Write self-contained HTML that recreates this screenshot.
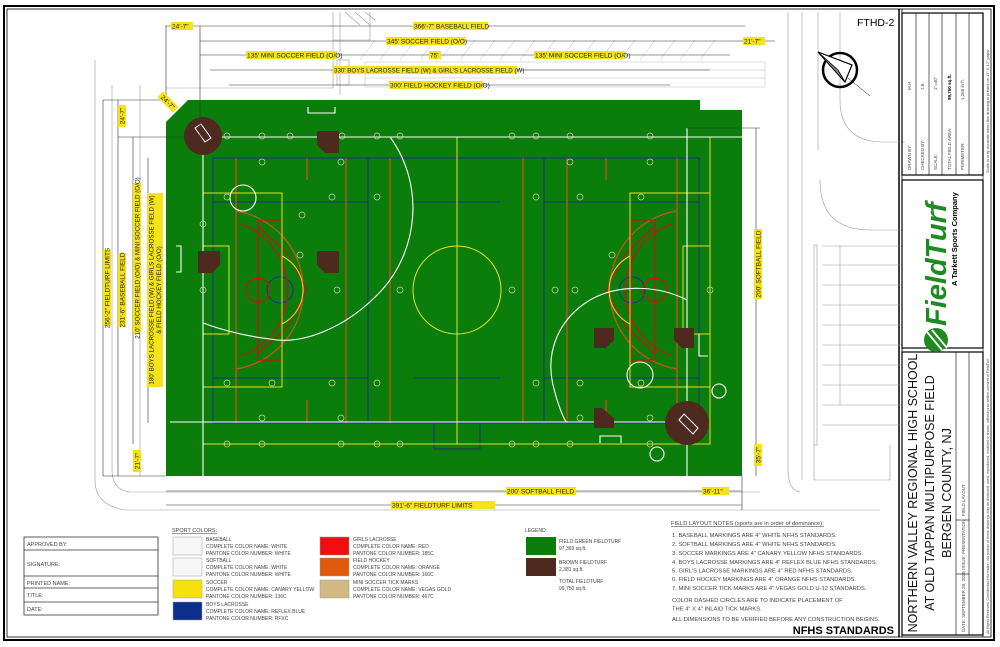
<!DOCTYPE html>
<html><head><meta charset="utf-8"><style>
html,body{margin:0;padding:0;background:#fff;}
svg{display:block;font-family:"Liberation Sans",sans-serif;}
</style></head><body>
<svg width="1000" height="647" viewBox="0 0 1000 647" xmlns="http://www.w3.org/2000/svg">
<!-- outer border -->
<rect x="4" y="6" width="990" height="634" fill="none" stroke="#000" stroke-width="2"/>
<rect x="7" y="9" width="984" height="628" fill="none" stroke="#000" stroke-width="0.8"/>
<line x1="899" y1="9" x2="899" y2="637" stroke="#000" stroke-width="1.5"/>
<line x1="902" y1="9" x2="902" y2="637" stroke="#000" stroke-width="0.8"/>

<!-- background site lines -->
<g stroke="#999" stroke-width="0.6" fill="none">
<path d="M333,12 V88 H166"/>
<path d="M340,12 V95"/>
<rect x="337" y="60" width="12" height="25"/>
<path d="M370,12 V40 H333" />
<path d="M345,12 L360,25 M355,12 L370,25 M365,12 L375,20"/>
<path d="M112,85 V470 Q112,490 130,492 H760"/>
<path d="M95,60 V480 Q95,505 125,510 H880"/>
<path d="M140,85 V476"/>
<path d="M788,12 V470 Q788,490 800,492"/>
<path d="M802,12 V480"/>
<path d="M818,12 V150"/>
<path d="M840,12 V100 Q840,140 880,142 H905"/>
<path d="M820,180 Q820,230 870,230 H902"/>
<path d="M822,246 H902 M822,265 H902 M822,285 H902 M822,305 H902 M822,325 H902 M822,345 H902 M822,365 H902 M822,385 H902 M822,405 H902 M822,425 H902"/>
<path d="M840,245 V405"/>
<path d="M814,445 V480 H890 V445"/>
<rect x="814" y="245" width="3" height="200"/>
</g>
<g stroke="#bbb" stroke-width="0.5">
<path d="M360,60 L375,40 M380,60 L395,40 M400,60 L415,40 M420,60 L435,40 M440,60 L455,40 M460,60 L475,40 M480,60 L495,40 M500,60 L515,40 M520,60 L535,40 M540,60 L555,40 M560,60 L575,40 M580,60 L595,40 M600,60 L615,40 M620,60 L635,40 M640,60 L655,40 M660,60 L675,40 M680,60 L695,40 M700,60 L715,40"/>
<rect x="365" y="62" width="400" height="25" fill="none"/>
<path d="M365,70 H765 M365,78 H765"/>
</g>

<!-- field -->
<path d="M188,100 H700 V110 H742 V476 H166 V122 Z" fill="#0b7d0b"/>

<!-- blue lacrosse -->
<g stroke="#1b2f8a" stroke-width="1" fill="none">
<rect x="213" y="158" width="486" height="265"/>
<line x1="368" y1="158" x2="368" y2="423"/>
<line x1="544" y1="158" x2="544" y2="423"/>
<line x1="213" y1="202" x2="368" y2="202"/>
<line x1="213" y1="378" x2="368" y2="378"/>
<line x1="544" y1="202" x2="699" y2="202"/>
<line x1="544" y1="378" x2="699" y2="378"/>
<line x1="413" y1="202" x2="500" y2="202"/>
<line x1="413" y1="378" x2="500" y2="378"/>
<circle cx="280" cy="290" r="13"/>
<circle cx="632" cy="290" r="13"/>
<rect x="434" y="423" width="46" height="26"/>
</g>
<!-- orange field hockey -->
<g stroke="#c8551a" stroke-width="1.3" fill="none">
<line x1="236" y1="158" x2="236" y2="423"/>
<line x1="346" y1="158" x2="346" y2="423"/>
<line x1="390" y1="158" x2="390" y2="423"/>
<line x1="523" y1="158" x2="523" y2="423"/>
<line x1="567" y1="158" x2="567" y2="423"/>
<line x1="677" y1="158" x2="677" y2="423"/>
<path d="M236,211 A80,80 0 0 1 236,369"/>
<path d="M677,211 A80,80 0 0 0 677,369"/>
<line x1="307" y1="158" x2="307" y2="180"/>
<line x1="307" y1="400" x2="307" y2="423"/>
<line x1="606" y1="158" x2="606" y2="180"/>
<line x1="606" y1="400" x2="606" y2="423"/>
</g>
<!-- red girls lacrosse -->
<g stroke="#c01a10" stroke-width="1.3" fill="none">
<path d="M258,220 H282 V360 H258 Z"/>
<path d="M258,226 L287,253 L307,290 L287,327 L258,354"/>
<circle cx="258" cy="290" r="12"/>
<path d="M241,224 A70,70 0 0 1 241,356"/>
<path d="M655,220 H631 V360 H655 Z"/>
<path d="M655,226 L626,253 L606,290 L626,327 L655,354"/>
<circle cx="655" cy="290" r="12"/>
<path d="M672,224 A70,70 0 0 0 672,356"/>
</g>
<!-- yellow soccer -->
<g stroke="#e8e020" stroke-width="1" fill="none">
<rect x="203" y="137" width="507" height="307"/>
<line x1="457" y1="137" x2="457" y2="444"/>
<circle cx="457" cy="290" r="44"/>
<rect x="203" y="193" width="79" height="194"/>
<rect x="203" y="246" width="26" height="88"/>
<rect x="630" y="193" width="80" height="194"/>
<rect x="683" y="246" width="27" height="88"/>
<path d="M282,256 A38,38 0 0 1 282,324"/>
<path d="M630,256 A38,38 0 0 0 630,324"/>
</g>
<!-- white baseball/softball -->
<g stroke="#fff" stroke-width="1.1" fill="none">
<line x1="203" y1="137" x2="742" y2="137"/>
<line x1="203" y1="128" x2="203" y2="476"/>
<line x1="170" y1="422" x2="687" y2="422"/>
<line x1="687" y1="128" x2="687" y2="476"/>
<path d="M390,137 C425,185 418,250 382,290 C345,330 300,345 270,339 C245,336 222,330 203,323"/>
<path d="M687,300 C660,286 620,283 590,300 C560,318 545,350 553,385 C558,405 562,415 566,422"/>
<circle cx="243" cy="198" r="13"/>
<circle cx="640" cy="375" r="13"/>
<circle cx="719" cy="391" r="7"/>
<circle cx="657" cy="454" r="7"/>
<path d="M176,246 H181 V272 H176"/>
<path d="M308,107 V113 H335 V107"/>
<path d="M600,443 V436 H621 V443"/>
<path d="M699,334 V356 H708"/>
</g>
<g fill="none" stroke="#cfd8b0" stroke-width="0.7">
<circle cx="227" cy="136" r="3"/><circle cx="262" cy="136" r="3"/><circle cx="290" cy="136" r="3"/><circle cx="342" cy="136" r="3"/><circle cx="377" cy="136" r="3"/><circle cx="400" cy="136" r="3"/><circle cx="512" cy="136" r="3"/><circle cx="536" cy="136" r="3"/><circle cx="570" cy="136" r="3"/><circle cx="650" cy="136" r="3"/>
<circle cx="262" cy="162" r="3"/><circle cx="341" cy="162" r="3"/><circle cx="570" cy="162" r="3"/><circle cx="650" cy="162" r="3"/>
<circle cx="227" cy="197" r="3"/><circle cx="332" cy="197" r="3"/><circle cx="377" cy="197" r="3"/><circle cx="536" cy="197" r="3"/><circle cx="580" cy="197" r="3"/><circle cx="641" cy="197" r="3"/>
<circle cx="203" cy="224" r="3"/><circle cx="302" cy="215" r="3"/><circle cx="300" cy="255" r="3"/><circle cx="612" cy="255" r="3"/>
<circle cx="203" cy="290" r="3"/><circle cx="337" cy="290" r="3"/><circle cx="400" cy="290" r="3"/><circle cx="512" cy="290" r="3"/><circle cx="555" cy="290" r="3"/><circle cx="575" cy="290" r="3"/><circle cx="710" cy="290" r="3"/>
<circle cx="227" cy="383" r="3"/><circle cx="272" cy="383" r="3"/><circle cx="332" cy="383" r="3"/><circle cx="377" cy="383" r="3"/><circle cx="536" cy="383" r="3"/><circle cx="580" cy="383" r="3"/><circle cx="641" cy="383" r="3"/>
<circle cx="262" cy="418" r="3"/><circle cx="341" cy="418" r="3"/><circle cx="580" cy="418" r="3"/><circle cx="650" cy="418" r="3"/>
<circle cx="227" cy="444" r="3"/><circle cx="262" cy="444" r="3"/><circle cx="341" cy="444" r="3"/><circle cx="377" cy="444" r="3"/><circle cx="400" cy="444" r="3"/><circle cx="512" cy="444" r="3"/><circle cx="536" cy="444" r="3"/><circle cx="570" cy="444" r="3"/><circle cx="650" cy="444" r="3"/>
</g>
<!-- brown infield areas -->
<g fill="#4e2a1e">
<circle cx="203" cy="136" r="19"/>
<circle cx="687" cy="423" r="22"/>
<path d="M317,131 H339 V153 H325 L317,145 Z"/>
<path d="M317,251 H339 V273 H325 L317,265 Z"/>
<path d="M198,251 H220 V265 L212,273 H198 Z"/>
<path d="M594,328 H614 V340 L606,348 H594 Z"/>
<path d="M674,328 H694 V348 H682 L674,340 Z"/>
<path d="M594,408 H602 L614,418 V428 H594 Z"/>
</g>
<g stroke="#fff" stroke-width="1" fill="none">
<path d="M195,128 L201,124 L211,138 L205,142 Z"/>
<path d="M679,420 L684,414 L698,428 L693,434 Z"/>
</g>

<!-- dimension lines -->
<g stroke="#333" stroke-width="0.6" fill="none">
<line x1="165" y1="26" x2="745" y2="26"/>
<line x1="200" y1="41" x2="775" y2="41"/>
<line x1="200" y1="55" x2="730" y2="55"/>
<line x1="210" y1="70" x2="710" y2="70"/>
<line x1="229" y1="85" x2="670" y2="85"/>
<line x1="166" y1="26" x2="166" y2="100"/>
<line x1="200" y1="26" x2="200" y2="137"/>
<line x1="103" y1="100" x2="166" y2="100"/>
<line x1="103" y1="476" x2="166" y2="476"/>
<line x1="103" y1="100" x2="103" y2="476"/>
<line x1="118" y1="100" x2="118" y2="476"/>
<line x1="133" y1="137" x2="133" y2="444"/>
<line x1="148" y1="158" x2="148" y2="423"/>
<line x1="118" y1="137" x2="203" y2="137"/>
<line x1="166" y1="491" x2="742" y2="491"/>
<line x1="166" y1="505" x2="742" y2="505"/>
<line x1="742" y1="476" x2="742" y2="510"/>
<line x1="756" y1="128" x2="756" y2="476"/>
<line x1="687" y1="128" x2="760" y2="128"/>
</g>
<!-- yellow labels -->
<g font-size="6.5" fill="#222">
<rect x="171" y="22" width="22" height="8" fill="#f5e31a"/><text x="172" y="28.5">24'-7"</text>
<rect x="413" y="22" width="75" height="8" fill="#f5e31a"/><text x="414" y="28.5">366'-7" BASEBALL FIELD</text>
<rect x="386" y="37" width="79" height="8" fill="#f5e31a"/><text x="387" y="43.5">345' SOCCER FIELD (O/O)</text>
<rect x="246" y="51" width="91" height="8" fill="#f5e31a"/><text x="247" y="57.5">135' MINI SOCCER FIELD (O/O)</text>
<rect x="429" y="51" width="12" height="8" fill="#f5e31a"/><text x="430" y="57.5">75'</text>
<rect x="534" y="51" width="91" height="8" fill="#f5e31a"/><text x="535" y="57.5">135' MINI SOCCER FIELD (O/O)</text>
<rect x="743" y="37" width="22" height="8" fill="#f5e31a"/><text x="744" y="43.5">21'-7"</text>
<rect x="333" y="66" width="184" height="8" fill="#f5e31a"/><text x="334" y="72.5" font-size="6.2">330' BOYS LACROSSE FIELD (W) &amp; GIRL'S LACROSSE FIELD (W)</text>
<rect x="389" y="81" width="94" height="8" fill="#f5e31a"/><text x="390" y="87.5">300' FIELD HOCKEY FIELD (O/O)</text>
<rect x="506" y="487" width="70" height="8" fill="#f5e31a"/><text x="507" y="493.5">200' SOFTBALL FIELD</text>
<rect x="702" y="487" width="27" height="8" fill="#f5e31a"/><text x="703" y="493.5">36'-11"</text>
<rect x="391" y="501" width="104" height="8" fill="#f5e31a"/><text x="392" y="507.5">391'-6" FIELDTURF LIMITS</text>
<g transform="translate(107,288) rotate(-90)"><rect x="-38" y="-4" width="76" height="8" fill="#f5e31a"/><text x="0" y="2.5" text-anchor="middle">256'-2" FIELDTURF LIMITS</text></g>
<g transform="translate(122,290) rotate(-90)"><rect x="-37" y="-4" width="74" height="8" fill="#f5e31a"/><text x="0" y="2.5" text-anchor="middle">231'-6" BASEBALL FIELD</text></g>
<g transform="translate(122,116) rotate(-90)"><rect x="-11" y="-4" width="22" height="8" fill="#f5e31a"/><text x="0" y="2.5" text-anchor="middle">24'-7"</text></g>
<g transform="translate(137,258) rotate(-90)"><rect x="-75" y="-4" width="150" height="8" fill="#f5e31a"/><text x="0" y="2.5" text-anchor="middle" font-size="6.2">210' SOCCER FIELD (O/O) &amp; MINI SOCCER FIELD (O/O)</text></g>
<g transform="translate(137,461) rotate(-90)"><rect x="-11" y="-4" width="22" height="8" fill="#f5e31a"/><text x="0" y="2.5" text-anchor="middle">21'-7"</text></g>
<g transform="translate(155,290) rotate(-90)"><rect x="-97" y="-8" width="194" height="16" fill="#f5e31a"/><text x="0" y="-1.5" text-anchor="middle" font-size="6.2">180' BOYS LACROSSE FIELD (W) &amp; GIRLS LACROSSE FIELD (W)</text><text x="0" y="6" text-anchor="middle" font-size="6.2">&amp; FIELD HOCKEY FIELD (O/O)</text></g>
<g transform="translate(168,102) rotate(45)"><rect x="-11" y="-4" width="22" height="8" fill="#f5e31a"/><text x="0" y="2.5" text-anchor="middle">24'-7"</text></g>
<g transform="translate(758,264) rotate(-90)"><rect x="-35" y="-4" width="70" height="8" fill="#f5e31a"/><text x="0" y="2.5" text-anchor="middle">200' SOFTBALL FIELD</text></g>
<g transform="translate(758,455) rotate(-90)"><rect x="-11" y="-4" width="22" height="8" fill="#f5e31a"/><text x="0" y="2.5" text-anchor="middle">35'-7"</text></g>
</g>

<!-- compass -->
<g stroke="#000" fill="none">
<circle cx="840" cy="70" r="17" stroke-width="2.5"/>
<path d="M818,52 L852,65 L845,82 Z" fill="#fff" stroke-width="1.2"/>
<path d="M818,52 L845,82 L838,70 Z" fill="#888" stroke-width="0.8"/>
<line x1="848" y1="78" x2="870" y2="96" stroke-width="0.5"/>
</g>
<text x="857" y="26" font-size="10.5" fill="#000">FTHD-2</text>

<!-- bottom left: approval table -->
<g stroke="#333" stroke-width="0.8" fill="none">
<rect x="24" y="537" width="134" height="78"/>
<line x1="24" y1="550" x2="158" y2="550"/>
<line x1="24" y1="576" x2="158" y2="576"/>
<line x1="24" y1="588" x2="158" y2="588"/>
<line x1="24" y1="602" x2="158" y2="602"/>
</g>
<g font-size="5.5" fill="#444">
<text x="27" y="546">APPROVED BY:</text>
<text x="27" y="566">SIGNATURE:</text>
<text x="27" y="585">PRINTED NAME:</text>
<text x="27" y="597">TITLE:</text>
<text x="27" y="611">DATE:</text>
</g>
<!-- sport colors -->
<text x="172" y="532" font-size="5.5" fill="#444" text-decoration="underline">SPORT COLORS:</text>
<g stroke="#999" stroke-width="0.5">
<rect x="173" y="537" width="29" height="18" fill="#f7f7f7"/>
<rect x="173" y="558" width="29" height="18" fill="#f7f7f7"/>
<rect x="173" y="580" width="29" height="18" fill="#f5e20c"/>
<rect x="173" y="602" width="29" height="18" fill="#0c2f8c"/>
<rect x="320" y="537" width="29" height="18" fill="#f00e0e"/>
<rect x="320" y="558" width="29" height="18" fill="#e05a0e"/>
<rect x="320" y="580" width="29" height="18" fill="#d2b984"/>
</g>
<g font-size="5" fill="#444">
<text x="206" y="541">BASEBALL</text><text x="206" y="548">COMPLETE COLOR NAME: WHITE</text><text x="206" y="555">PANTONE COLOR NUMBER: WHITE</text>
<text x="206" y="562">SOFTBALL</text><text x="206" y="569">COMPLETE COLOR NAME: WHITE</text><text x="206" y="576">PANTONE COLOR NUMBER: WHITE</text>
<text x="206" y="584">SOCCER</text><text x="206" y="591">COMPLETE COLOR NAME: CANARY YELLOW</text><text x="206" y="598">PANTONE COLOR NUMBER: 136C</text>
<text x="206" y="606">BOYS LACROSSE</text><text x="206" y="613">COMPLETE COLOR NAME: REFLEX BLUE</text><text x="206" y="620">PANTONE COLOR NUMBER: RFXC</text>
<text x="353" y="541">GIRLS LACROSSE</text><text x="353" y="548">COMPLETE COLOR NAME: RED</text><text x="353" y="555">PANTONE COLOR NUMBER: 185C</text>
<text x="353" y="562">FIELD HOCKEY</text><text x="353" y="569">COMPLETE COLOR NAME: ORANGE</text><text x="353" y="576">PANTONE COLOR NUMBER: 166C</text>
<text x="353" y="584">MINI SOCCER TICK MARKS</text><text x="353" y="591">COMPLETE COLOR NAME: VEGAS GOLD</text><text x="353" y="598">PANTONE COLOR NUMBER: 467C</text>
</g>
<!-- legend -->
<text x="525" y="532" font-size="5" fill="#444">LEGEND:</text>
<rect x="526" y="537" width="30" height="18" fill="#0b7d0b"/>
<rect x="526" y="558" width="30" height="18" fill="#4e2a1e"/>
<g font-size="5" fill="#444">
<text x="559" y="543">FIELD GREEN FIELDTURF</text><text x="559" y="550">97,369 sq.ft.</text>
<text x="559" y="564">BROWN FIELDTURF</text><text x="559" y="571">2,381 sq.ft.</text>
<text x="559" y="583">TOTAL FIELDTURF</text><text x="559" y="590">99,750 sq.ft.</text>
</g>
<!-- notes -->
<g font-size="5.8" fill="#444">
<text x="671" y="525" text-decoration="underline">FIELD LAYOUT NOTES (sports are in order of dominance):</text>
<text x="672" y="537">1.   BASEBALL MARKINGS ARE 4" WHITE NFHS STANDARDS.</text>
<text x="672" y="546">2.   SOFTBALL MARKINGS ARE 4" WHITE NFHS STANDARDS.</text>
<text x="672" y="555">3.   SOCCER MARKINGS ARE 4" CANARY YELLOW NFHS STANDARDS.</text>
<text x="672" y="564">4.   BOYS LACROSSE MARKINGS ARE 4" REFLEX BLUE NFHS STANDARDS.</text>
<text x="672" y="572.5">5.   GIRL'S LACROSSE MARKINGS ARE 4" RED NFHS STANDARDS.</text>
<text x="672" y="581">6.   FIELD HOCKEY MARKINGS ARE 4" ORANGE NFHS STANDARDS.</text>
<text x="672" y="590">7.   MINI SOCCER TICK MARKS ARE 4" VEGAS GOLD U-12 STANDARDS.</text>
<text x="672" y="602">COLOR DASHED CIRCLES ARE TO INDICATE PLACEMENT OF</text>
<text x="672" y="610.5">THE 4" X 4" INLAID TICK MARKS.</text>
<text x="672" y="621">ALL DIMENSIONS TO BE VERIFIED BEFORE ANY CONSTRUCTION BEGINS.</text>
</g>
<text x="894" y="634" font-size="11" font-weight="bold" text-anchor="end" fill="#000">NFHS STANDARDS</text>

<!-- title block -->
<g stroke="#000" fill="none">
<rect x="902" y="13" width="81" height="162" stroke-width="1.2"/>
<line x1="916" y1="13" x2="916" y2="175" stroke-width="0.6"/>
<line x1="929" y1="13" x2="929" y2="175" stroke-width="0.6"/>
<line x1="942" y1="13" x2="942" y2="175" stroke-width="0.6"/>
<line x1="956" y1="13" x2="956" y2="175" stroke-width="0.6"/>
<line x1="969" y1="13" x2="969" y2="175" stroke-width="0.6"/>
<rect x="902" y="180" width="81" height="168" stroke-width="1.2"/>
<rect x="902" y="352" width="81" height="283" stroke-width="1.2"/>
<line x1="956" y1="352" x2="956" y2="635" stroke-width="0.6"/>
<line x1="956" y1="520" x2="969" y2="520" stroke-width="0.6"/>
<line x1="956" y1="574" x2="969" y2="574" stroke-width="0.6"/>
<line x1="969" y1="352" x2="969" y2="635" stroke-width="0.6"/>
<line x1="983" y1="13" x2="983" y2="637" stroke-width="0.6"/>
</g>
<g font-size="4.5" fill="#444">
<g transform="translate(911,170) rotate(-90)"><text>DRAWN BY:</text><text x="80">M.H.</text></g>
<g transform="translate(924,170) rotate(-90)"><text>CHECKED BY:</text><text x="80">J.B.</text></g>
<g transform="translate(937,170) rotate(-90)"><text>SCALE:</text><text x="80">1"=40'</text></g>
<g transform="translate(951,170) rotate(-90)"><text>TOTAL FIELD AREA:</text><text x="70" font-weight="bold" fill="#000">99,750 sq.ft.</text></g>
<g transform="translate(964,170) rotate(-90)"><text>PERIMETER:</text><text x="70">1,266 ln ft.</text></g>
<g transform="translate(989,173) rotate(-90)"><text font-size="4">Scale is only accurate when this drawing is printed on 11" X 17" paper</text></g>
<g transform="translate(989,634) rotate(-90)"><text font-size="3.6">All Rights Reserved. Confidential Information. No portion of these drawings may be disclosed, used, reproduced, modified or shown, without prior written consent of FieldTurf.</text></g>
<g transform="translate(965,632) rotate(-90)"><text>DATE: SEPTEMBER 26, 2025</text><text x="62">ISSUE: PRESENTATION</text><text x="116">FIELD LAYOUT</text></g>
</g>
<!-- logo -->
<g transform="translate(942,264) rotate(-90)">
<circle cx="-76" cy="-6" r="12" fill="#1f8a1f"/>
<path d="M-86,0 L-68,-15 M-84,5 L-66,-10" stroke="#fff" stroke-width="1.8"/>
<text x="-62" y="4" font-size="29" font-weight="bold" fill="#1f8a1f" font-style="italic">FieldTurf</text>
<text x="-22" y="15" font-size="7.5" font-weight="bold" fill="#000">A Tarkett Sports Company</text>
</g>
<!-- project title -->
<g fill="#111" text-anchor="middle">
<g transform="translate(917,493) rotate(-90)"><text font-size="12.5">NORTHERN VALLEY REGIONAL HIGH SCHOOL</text></g>
<g transform="translate(934,493) rotate(-90)"><text font-size="12.5">AT OLD TAPPAN MULTIPURPOSE FIELD</text></g>
<g transform="translate(951,493) rotate(-90)"><text font-size="12.5">BERGEN COUNTY, NJ</text></g>
</g>
</svg>
</body></html>
